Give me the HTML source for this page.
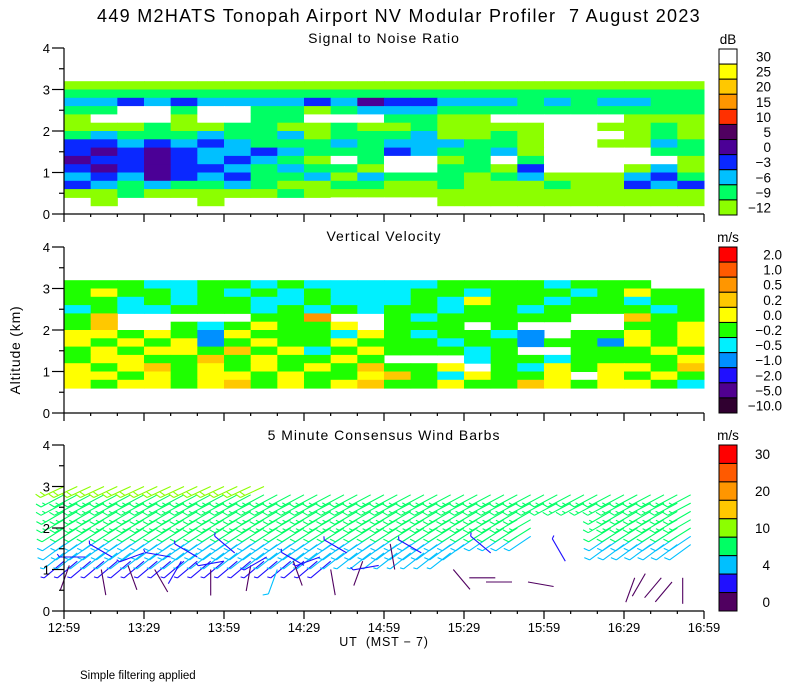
<!DOCTYPE html>
<html><head><meta charset="utf-8">
<style>
html,body{margin:0;padding:0;background:#fff;}
svg{display:block;font-family:"Liberation Sans",sans-serif;}
</style></head>
<body>
<svg id="chart" width="800" height="700" viewBox="0 0 800 700" xmlns="http://www.w3.org/2000/svg">
<rect width="800" height="700" fill="#fff"/>
<text x="399" y="22" font-size="18" text-anchor="middle" letter-spacing="1.3" xml:space="preserve">449 M2HATS Tonopah Airport NV Modular Profiler  7 August 2023</text>
<text x="384" y="43" font-size="14" letter-spacing="1" text-anchor="middle">Signal to Noise Ratio</text>
<text x="384" y="241" font-size="14" letter-spacing="1" text-anchor="middle">Vertical Velocity</text>
<text x="384" y="440" font-size="14" letter-spacing="1" text-anchor="middle">5 Minute Consensus Wind Barbs</text>
<text x="20" y="350" font-size="14" letter-spacing="0.8" text-anchor="middle" transform="rotate(-90 20 350)">Altitude (km)</text>
<text x="384" y="646" font-size="12.5" letter-spacing="0.8" text-anchor="middle" xml:space="preserve">UT  (MST − 7)</text>
<text x="80" y="679" font-size="11.5">Simple filtering applied</text>
<g id="plots"></g>
</svg>
<script>
// ---------- data ----------
const timeTicks = ['12:59','13:29','13:59','14:29','14:59','15:29','15:59','16:29','16:59'];
const altTicks = [0,1,2,3,4];
const heatTimes = [0,10,20,30,40,50,60,70,80,90,100,110,120,130,140,150,160,170,180,190,200,210,220,230];
const heatAlts = [3.1,2.9,2.7,2.5,2.3,2.1,1.9,1.7,1.5,1.3,1.1,0.9,0.7,0.5,0.3];
const N = null;
const snrValues = [
[-11,-11,-11,-11,-11,-11,-11,-11,-11,-11,-11,-11,-11,-11,-11,-11,-11,-11,-11,-11,-11,-11,-11,-11],
[-8,-8,-8,-8,-8,-8,-8,-8,-8,-8,-8,-8,-8,-8,-8,-8,-8,-8,-8,-8,-8,-8,-8,-8],
[-5,-5,-2,-5,-2,-5,-5,-5,-5,-2,-5,2,-2,-2,-5,-5,-5,-8,-5,-8,-5,-5,-8,-8],
[-8,-8,30,30,-8,30,30,-8,-8,-11,-8,-5,-5,-5,-8,-8,-8,-8,-8,-8,-8,-8,-8,-8],
[-11,30,30,30,-11,30,30,-8,-8,30,30,30,-8,-8,-11,-11,30,30,30,30,30,-11,-11,-11],
[-11,-11,-11,-8,-11,-11,-8,-8,-11,-11,-8,-11,-11,-8,-11,-11,-11,-11,30,30,-11,-11,-8,-11],
[-8,-5,-8,-8,-8,-5,-8,-8,-5,-11,-8,-8,-8,-5,-11,-11,-8,-11,30,30,30,-11,-8,-11],
[-2,-2,-5,-2,-5,-2,-5,-8,-8,-8,-5,-8,-5,-5,-5,-8,-8,-11,30,30,-11,-11,-5,-8],
[-2,2,-2,2,-2,-5,-5,-2,-5,-8,-8,-8,-2,-5,-8,-8,-5,-11,30,30,30,30,-8,-8],
[2,-2,-2,2,-2,-5,-2,-5,-8,-11,30,-8,30,30,-11,-8,30,-8,30,30,30,30,30,-11],
[-2,2,-2,2,-2,-2,-5,-8,-5,-8,-8,-11,30,30,-8,-8,-11,-2,30,30,30,-11,-5,-11],
[-5,-2,-5,2,-2,-5,-2,-8,-8,-5,-11,-5,-8,-8,-8,-11,-8,-5,-11,-11,-11,-5,-2,-8],
[-2,-5,-8,-5,-8,-8,-5,-8,-11,-11,-8,-8,-11,-11,-8,-11,-11,-11,-8,-11,-11,-2,-5,-2],
[-11,-11,-8,-11,-11,-11,-11,-11,-8,-11,-11,-11,-11,-11,-11,-11,-11,-11,-11,-11,-11,-11,-11,-11],
[N,-11,N,N,N,-11,N,N,N,N,30,30,30,30,-11,-11,-11,-11,-11,-11,-11,-11,-11,-11]
];
const vvValues = [
[-0.1,-0.1,-0.1,-0.3,-0.3,-0.1,-0.1,-0.3,-0.1,-0.3,-0.3,-0.3,-0.3,-0.3,-0.1,-0.1,-0.1,-0.1,-0.3,-0.1,-0.1,-0.1,N,N],
[-0.1,0.1,-0.1,-0.1,-0.3,-0.1,-0.3,-0.1,-0.3,-0.1,-0.3,-0.3,-0.3,-0.1,-0.1,-0.3,-0.1,-0.1,-0.1,-0.3,-0.1,0.1,-0.1,-0.1],
[-0.1,-0.1,-0.3,-0.1,-0.3,-0.1,-0.1,-0.3,-0.3,-0.1,-0.3,-0.3,-0.3,-0.1,-0.3,0.1,-0.1,-0.1,-0.3,-0.1,-0.1,-0.3,-0.1,-0.1],
[-0.3,-0.1,-0.3,-0.3,-0.1,-0.1,-0.1,-0.3,-0.1,-0.3,-0.1,-0.3,-0.1,-0.1,-0.3,-0.1,-0.1,-0.3,-0.1,-0.1,-0.1,-0.1,-0.3,-0.1],
[-0.1,0.3,N,N,N,N,N,-0.1,-0.1,0.7,N,N,-0.1,-0.3,-0.1,-0.1,-0.1,-0.1,-0.1,N,N,0.3,-0.1,-0.1],
[-0.1,0.3,N,N,-0.1,-0.3,-0.1,0.1,-0.1,-0.1,0.1,N,-0.1,-0.1,-0.1,N,-0.1,N,N,N,N,-0.1,-0.1,0.1],
[0.1,0.1,-0.1,0.1,-0.1,-0.7,0.1,-0.1,-0.1,-0.1,-0.3,0.1,-0.1,-0.3,-0.1,-0.1,-0.3,-0.7,N,-0.1,-0.1,0.1,-0.1,0.1],
[0.1,-0.1,0.1,-0.1,0.1,-0.7,-0.1,0.1,-0.1,-0.1,0.1,-0.1,-0.1,-0.1,-0.3,-0.1,-0.1,-0.7,-0.1,-0.1,-0.7,0.1,-0.1,0.1],
[-0.1,0.1,-0.1,0.1,0.1,-0.1,0.3,-0.1,0.1,-0.3,-0.1,0.1,-0.1,-0.1,-0.1,-0.3,-0.1,N,N,-0.1,-0.1,-0.1,0.1,-0.1],
[-0.1,0.1,0.1,-0.1,-0.1,0.3,-0.1,0.1,-0.1,-0.1,0.1,-0.1,N,N,N,-0.3,-0.1,-0.1,-0.3,-0.1,-0.1,-0.1,-0.1,0.1],
[0.1,-0.1,0.1,0.3,-0.1,0.1,-0.1,0.1,-0.1,0.1,-0.1,0.3,-0.1,-0.1,0.1,N,-0.1,-0.3,0.1,-0.1,0.1,0.1,-0.1,0.3],
[0.1,0.1,-0.1,0.1,-0.1,0.1,0.1,-0.1,0.1,-0.1,-0.1,0.1,0.3,-0.1,-0.3,0.1,-0.1,-0.1,0.1,N,0.1,-0.1,0.1,-0.1],
[0.1,-0.1,0.1,0.1,-0.1,0.1,0.3,-0.1,0.1,-0.1,0.1,0.3,-0.1,-0.1,0.1,-0.1,-0.1,0.3,0.1,-0.1,0.1,0.1,-0.1,-0.3],
[N,N,N,N,N,N,N,N,N,N,N,N,N,N,N,N,N,N,N,N,N,N,N,N],
[N,N,N,N,N,N,N,N,N,N,N,N,N,N,N,N,N,N,N,N,N,N,N,N]
];
// wind barbs: upper consensus grid
const windTimes = [0,5,10,15,20,25,30,35,40,45,50,55,60,65,70,75,80,85,90,95,100,105,110,115,120,125,130,135,140,145,150,155,160,165,170,175,180,185,190,195,200,205,210,215,220,225,230,235];
const windLevels = [3.0,2.8,2.6,2.4,2.2,2.0,1.8,1.6,1.4,1.2];
const windSpeeds = [11,9,9,8,8,7,6,5,4.5,3];
const windDirs = [245,242,242,240,240,238,236,234,232,230];
const windTop = [3.0,3.0,3.0,3.0,3.0,3.0,3.0,3.0,3.0,3.0,3.0,3.0,3.0,3.0,3.0,3.0,2.9,2.9,2.9,2.9,2.9,2.9,2.9,2.9,2.9,2.9,2.9,2.9,2.9,2.9,2.9,2.9,2.9,2.9,2.9,2.9,2.9,2.9,2.9,2.9,2.9,2.9,2.9,2.9,2.9,2.9,2.9,2.9];
const windBottom = [1.2,1.2,1.2,1.2,1.2,1.2,1.2,1.2,1.2,1.2,1.2,1.2,1.2,1.2,1.2,1.2,1.2,1.2,1.2,1.2,1.2,1.4,1.4,1.4,1.4,1.4,1.4,1.4,1.4,1.4,1.6,1.8,1.8,1.8,1.8,1.8,2.6,2.6,2.6,2.6,2.6,1.6,1.6,1.6,1.6,1.6,1.6,1.6];
// scattered low-level barbs [minutes, altitude km, speed m/s, direction deg]
const lowBarbTimes = [2,8,14,18,24,30,34,40,44,50,55,60,64,70,76,80,86,90,96,100,106,112,118,124,134,146,152,160,168,174,188,214,218,224,228,232];
const lowBarbAlts  = [1.1,1.3,1.0,1.3,1.1,1.4,1.0,1.3,1.2,1.3,1.0,1.2,1.4,1.1,1.3,1.0,1.2,1.1,1.3,1.0,1.4,1.2,1.1,1.0,1.4,1.0,0.8,1.4,0.7,0.7,1.2,0.8,0.9,0.8,0.7,0.8];
const lowBarbSpds  = [1,3,1,3,1,3,1,3,2,3,1,3,3,1,3,5,1,3,3,1,3,1,3,1,3,1,1,3,1,1,3,1,1,1,1,1];
const lowBarbDirs  = [200,270,170,300,160,250,150,280,210,300,180,260,310,190,240,200,160,300,250,170,300,200,260,350,300,140,90,310,270,100,330,200,210,220,220,180];

// ---------- scales ----------
const X0 = 64, PXMIN = 80/30;
const xs = m => X0 + m*PXMIN;
const panels = [{y0:214,name:'snr'},{y0:413,name:'velocity'},{y0:611,name:'wind'}];
const KM = 41.5;
const ys = (p,a) => p.y0 - a*KM;

const NS = 'http://www.w3.org/2000/svg';
const root = document.getElementById('plots');
function mk(tag, attrs, parent){
  const e = document.createElementNS(NS, tag);
  for (const k in attrs) e.setAttribute(k, attrs[k]);
  (parent||root).appendChild(e);
  return e;
}
const snrThr = [-12,-9,-6,-3,0,5,10,15,20,25,30];
const snrCol = ['#8cff00','#00ff64','#00c0ff','#0a28ff','#4b0096','#500060','#ff3000','#ff9600','#ffc800','#ffff00','#ffffff'];
const vvThr = [-10,-5,-2,-1,-0.5,-0.2,0,0.2,0.5,1,2];
const vvCol = ['#300030','#500090','#2010ff','#0090ff','#00f0ff','#1eff00','#ffff00','#ffc800','#ff9600','#ff5a00','#ff0000'];
const wThr = [0,2,4,7,10,15,20,25,30];
const wCol = ['#500060','#2010ff','#00c0ff','#00ff64','#8cff00','#ffc800','#ff9600','#ff5a00','#ff0000'];
function colorFor(v, thr, cols){ let i=0; for(let k=0;k<thr.length;k++) if(v>=thr[k]) i=k; return cols[i]; }

// ---------- heatmaps ----------
function heat(p, values, thr, cols){
  const g = mk('g', {});
  
  
  for (let r=0;r<heatAlts.length;r++){
    for (let c=0;c<heatTimes.length;c++){
      const v = values[r][c];
      if (v===null) continue;
      const x1 = xs(heatTimes[c]), x2 = xs(heatTimes[c]+10);
      const yTop = ys(p, heatAlts[r]+0.1), yBot = ys(p, heatAlts[r]-0.1);
      const el = mk('rect', {x:x1, y:yTop, width:x2-x1+0.5, height:yBot-yTop+0.5, fill:colorFor(v,thr,cols)}, g);
      
      
    }
  }
}
heat(panels[0], snrValues, snrThr, snrCol);
heat(panels[1], vvValues, vvThr, vvCol);

// ---------- wind barbs ----------
function barb(p, m, a, spd, dir, g){
  const L = 26;
  const x = xs(m), y = ys(p, a);
  const rad = dir*Math.PI/180;
  const dx = Math.sin(rad), dy = -Math.cos(rad);
  const ex = x + dx*L, ey = y + dy*L;
  const col = colorFor(spd, wThr, wCol);
  let d = `M${x.toFixed(1)},${y.toFixed(1)}L${ex.toFixed(1)},${ey.toFixed(1)}`;
  const px = -dy, py = dx;
  let full = Math.floor(spd/5), half = (spd%5)>=2.5 ? 1 : 0;
  let pos = 0;
  for (let i=0;i<full;i++){
    const bx = ex - dx*pos, by = ey - dy*pos;
    d += `M${bx.toFixed(1)},${by.toFixed(1)}L${(bx+px*5+dx*3).toFixed(1)},${(by+py*5+dy*3).toFixed(1)}`;
    pos += 5;
  }
  if (half){
    const bx = ex - dx*pos, by = ey - dy*pos;
    d += `M${bx.toFixed(1)},${by.toFixed(1)}L${(bx+px*3+dx*2).toFixed(1)},${(by+py*3+dy*2).toFixed(1)}`;
  }
  const el = mk('path', {d:d, stroke:col, 'stroke-width':1.1, fill:'none'}, g);
  
  
}
const wg = mk('g', {});


for (let t=0;t<windTimes.length;t++){
  for (let l=0;l<windLevels.length;l++){
    const a = windLevels[l];
    if (a>windTop[t]+0.01 || a<windBottom[t]-0.01) continue;
    barb(panels[2], windTimes[t], a, windSpeeds[l], windDirs[l], wg);
  }
}
for (let i=0;i<lowBarbTimes.length;i++){
  barb(panels[2], lowBarbTimes[i], lowBarbAlts[i], lowBarbSpds[i], lowBarbDirs[i], wg);
}

// ---------- axes ----------
panels.forEach((p, pi) => {
  const g = mk('g', {stroke:'#000','stroke-width':1.2,fill:'none'});
  
  
  mk('path', {d:`M${X0},${ys(p,4)}L${X0},${p.y0}L${xs(240)},${p.y0}`}, g);
  for (let k=0;k<=8;k++){
    const y = ys(p, k*0.5);
    const len = k%2===0 ? 12 : 5;
    mk('path', {d:`M${X0-len},${y}L${X0},${y}`}, g);
  }
  for (let m=0;m<=240;m+=10){
    const len = m%30===0 ? 8 : 3;
    mk('path', {d:`M${xs(m)},${p.y0}L${xs(m)},${p.y0+len}`}, g);
  }
  altTicks.forEach(a => {
    const t = mk('text', {x:X0-14, y:ys(p,a)+5, 'font-size':13, 'text-anchor':'end'});
    t.textContent = a;
    
    
  });
});
timeTicks.forEach((lab, i) => {
  const t = mk('text', {x:xs(i*30), y:632, 'font-size':13, 'text-anchor':'middle'});
  t.textContent = lab;
  
  
});

// ---------- colorbars ----------
const snrLabels = ['30','25','20','15','10','5','0','−3','−6','−9','−12'];
const vvLabels = ['2.0','1.0','0.5','0.2','0.0','−0.2','−0.5','−1.0','−2.0','−5.0','−10.0'];
const windLabels = ['30','','20','','10','','4','','0'];
function colorbar(name, top, bot, colsTopDown, labels, unit, unitX, labelX){
  const g = mk('g', {});
  
  
  const n = colsTopDown.length, h = (bot-top)/n;
  colsTopDown.forEach((c,i) => {
    const r = mk('rect', {x:719, y:top+i*h, width:18, height:h, fill:c, stroke:'#000', 'stroke-width':1}, g);
    
    
    if (labels[i]){
      const t = mk('text', {x:labelX, y:top+i*h+h/2+5, 'font-size':13.5, 'text-anchor':'end'}, g);
      t.textContent = labels[i];
      
      
    }
  });
  const u = mk('text', {x:unitX, y:top-5, 'font-size':13.5, 'text-anchor':'middle'}, g);
  u.textContent = unit;
  
  
}
colorbar('snr-colorbar', 49, 215, snrCol.slice().reverse(), snrLabels, 'dB', 728, 771);
colorbar('velocity-colorbar', 247, 413, vvCol.slice().reverse(), vvLabels, 'm/s', 728, 782);
colorbar('wind-colorbar', 445, 611, wCol.slice().reverse(), windLabels, 'm/s', 728, 770);
</script>
</body></html>
